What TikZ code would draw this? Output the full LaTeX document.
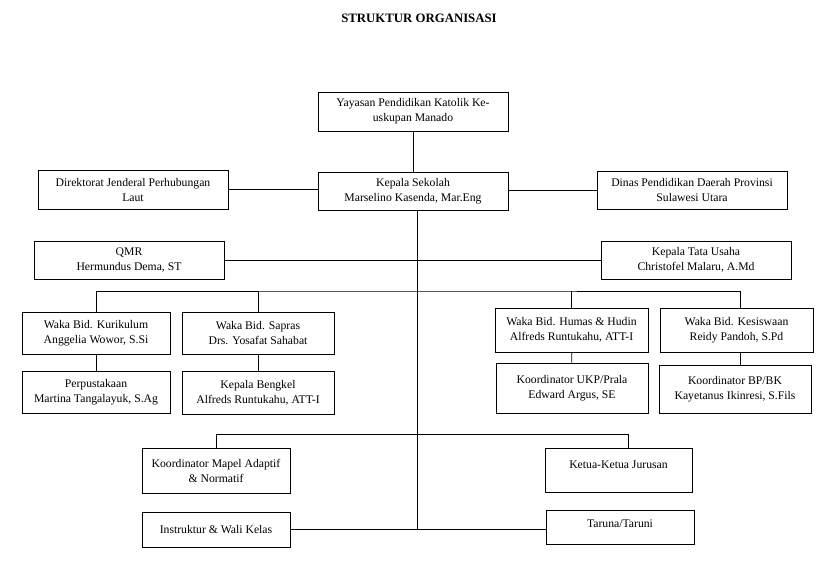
\documentclass[tikz,border=0pt]{standalone}
\usepackage{fontspec}
\setmainfont{Liberation Serif}
\usetikzlibrary{positioning}

\begin{document}
\begin{tikzpicture}[x=1pt,y=-1pt,
  unit/.style={draw,line width=0.9pt,align=center,inner sep=1pt,
    font=\fontsize{11.7}{15}\selectfont},
  topline/.style={text depth=#1},
  link/.style={line width=0.9pt}]
\useasboundingbox (0,0) rectangle (837,563);
%-------->title<--------------
\node (title) at (419,18) {\fontsize{12.8}{15}\selectfont\bfseries STRUKTUR ORGANISASI};
%-------->top nodes<--------------
\node[unit,minimum width=190pt,minimum height=39pt] (yayasan) at (413,111.5) {Yayasan Pendidikan Katolik Ke-\\uskupan Manado};
\node[unit,minimum width=190pt,minimum height=38pt] (kepsek) at (413,191) {Kepala Sekolah\\Marselino Kasenda, Mar.Eng};
\node[unit,minimum width=190pt,minimum height=39pt] (dirjen) at (133,189.5) {Direktorat Jenderal Perhubungan\\Laut};
\node[unit,minimum width=190pt,minimum height=38pt] (dinas) at (692,190) {Dinas Pendidikan Daerah Provinsi\\Sulawesi Utara};
\node[unit,minimum width=190pt,minimum height=38pt] (qmr) at (129,260) {QMR\\Hermundus Dema, ST};
\node[unit,minimum width=190pt,minimum height=38pt] (ktu) at (696,260) {Kepala Tata Usaha\\Christofel Malaru, A.Md};
%-------->waka nodes<--------------
\node[unit,minimum width=148pt,minimum height=42pt] (kurikulum) at (96,333) {Waka Bid. Kurikulum\\Anggelia Wowor, S.Si};
\node[unit,minimum width=152pt,minimum height=42pt] (sapras) at (258,333) {Waka Bid. Sapras\\Drs. Yosafat Sahabat};
\node[unit,minimum width=153pt,minimum height=44pt] (humas) at (571.5,330) {Waka Bid. Humas \& Hudin\\Alfreds Runtukahu, ATT-I};
\node[unit,minimum width=153pt,minimum height=44pt] (kesiswaan) at (736.5,330) {Waka Bid. Kesiswaan\\Reidy Pandoh, S.Pd};
\node[unit,minimum width=148pt,minimum height=42pt] (perpus) at (96,392) {Perpustakaan\\Martina Tangalayuk, S.Ag};
\node[unit,minimum width=152pt,minimum height=43pt] (bengkel) at (258,392.5) {Kepala Bengkel\\Alfreds Runtukahu, ATT-I};
\node[unit,minimum width=152pt,minimum height=50pt] (ukp) at (572,388) {Koordinator UKP/Prala\\Edward Argus, SE};
\node[unit,minimum width=152pt,minimum height=48pt] (bpbk) at (735,389) {Koordinator BP/BK\\Kayetanus Ikinresi, S.Fils};
%-------->bottom nodes<--------------
\node[unit,minimum width=148pt,minimum height=45pt] (mapel) at (216,470.5) {Koordinator Mapel Adaptif\\\& Normatif};
\node[unit,topline=10pt,minimum width=147pt,minimum height=44pt] (ketua) at (618.5,470) {Ketua-Ketua Jurusan};
\node[unit,minimum width=148pt,minimum height=35pt] (instruktur) at (216,529.5) {Instruktur \& Wali Kelas};
\node[unit,topline=7pt,minimum width=148pt,minimum height=34pt] (taruna) at (620,527) {Taruna/Taruni};
%-------->trunk and bus points<--------------
\coordinate (trunk) at (417,529);
\coordinate (bustop) at (417,291);
\coordinate (buslow) at (417,434);
\coordinate (dropkes) at (740,291);
\coordinate (dropket) at (628,434);
%------------->top links<------------------
\draw[link] (yayasan) -- (kepsek);
\draw[link] (dirjen.east) -- (dirjen.east -| kepsek.west);
\draw[link] (kepsek.east |- dinas.west) -- (dinas.west);
\draw[link] (kepsek.south -| trunk) -- (trunk);
\draw[link] (qmr.east) -- (ktu.west);
%------------->waka links<------------------
\draw[link] (kurikulum.north) |- (bustop) -- (dropkes) -- (dropkes |- kesiswaan.north);
\draw[link] (sapras.north) -- (sapras.north |- bustop);
\draw[link] (humas.north) -- (humas.north |- bustop);
\draw[link] (kurikulum) -- (perpus);
\draw[link] (sapras) -- (bengkel);
\draw[link] (humas) -- (ukp);
\draw[link] (dropkes |- kesiswaan.south) -- (dropkes |- bpbk.north);
%------------->bottom links<------------------
\draw[link] (mapel.north) |- (buslow) -- (dropket) -- (dropket |- ketua.north);
\draw[link] (instruktur.east |- trunk) -- (trunk -| taruna.west);
\end{tikzpicture}
\end{document}
